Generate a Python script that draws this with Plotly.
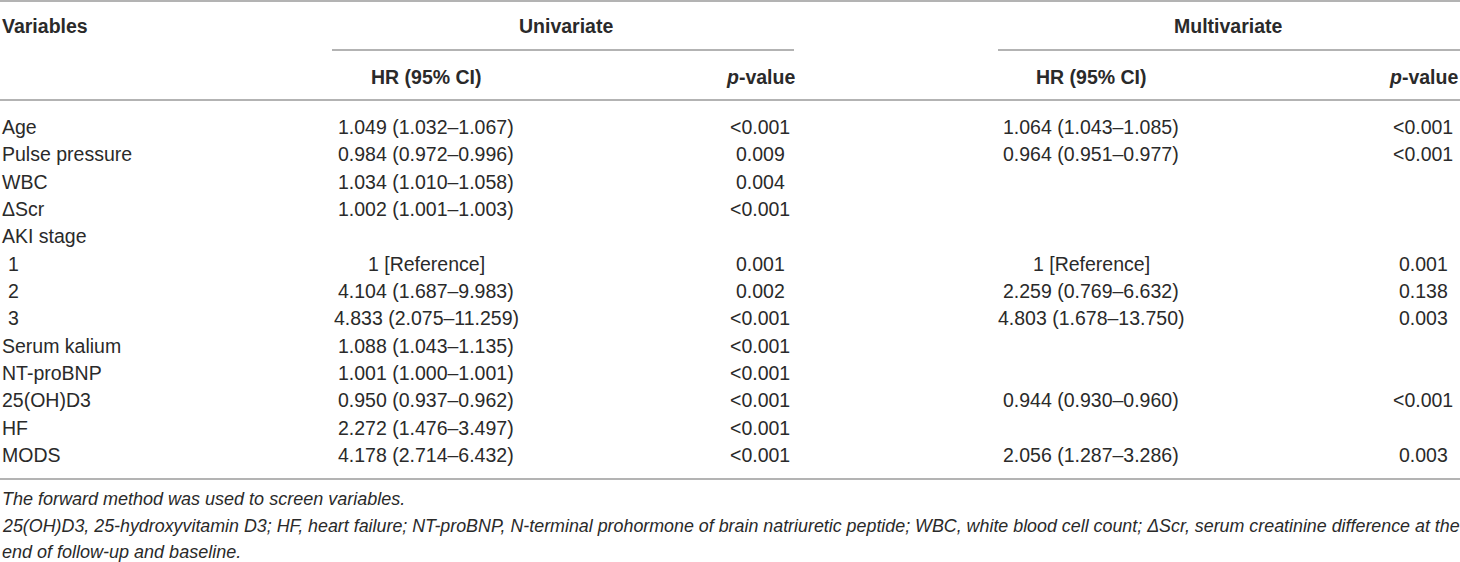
import plotly.graph_objects as go

# ---- data ----
variables = ["Age", "Pulse pressure", "WBC", "ΔScr", "AKI stage", "1", "2", "3",
             "Serum kalium", "NT-proBNP", "25(OH)D3", "HF", "MODS"]
indented = [False, False, False, False, False, True, True, True,
            False, False, False, False, False]
uni_hr = ["1.049 (1.032–1.067)", "0.984 (0.972–0.996)", "1.034 (1.010–1.058)",
          "1.002 (1.001–1.003)", "", "1 [Reference]", "4.104 (1.687–9.983)",
          "4.833 (2.075–11.259)", "1.088 (1.043–1.135)", "1.001 (1.000–1.001)",
          "0.950 (0.937–0.962)", "2.272 (1.476–3.497)", "4.178 (2.714–6.432)"]
uni_p = ["<0.001", "0.009", "0.004", "<0.001", "", "0.001", "0.002", "<0.001",
         "<0.001", "<0.001", "<0.001", "<0.001", "<0.001"]
multi_hr = ["1.064 (1.043–1.085)", "0.964 (0.951–0.977)", "", "", "", "1 [Reference]",
            "2.259 (0.769–6.632)", "4.803 (1.678–13.750)", "", "",
            "0.944 (0.930–0.960)", "", "2.056 (1.287–3.286)"]
multi_p = ["<0.001", "<0.001", "", "", "", "0.001", "0.138", "0.003", "", "",
           "<0.001", "", "0.003"]
group_headers = ["Univariate", "Multivariate"]
sub_headers = ["HR (95% CI)", "<i>p</i>-value"]
footnotes = [
    "The forward method was used to screen variables.",
    "25(OH)D3, 25-hydroxyvitamin D3; HF, heart failure; NT-proBNP, N-terminal prohormone of brain natriuretic peptide; WBC, white blood cell count; ΔScr, serum creatinine difference at the",
    "end of follow-up and baseline.",
]

# ---- layout constants ----
W, H = 1460, 562
FONT = "Liberation Sans, Arial, sans-serif"
TXT = "#2a2a2a"
LINE = "#9a9a9a"
FS = 19.5
row_y0, row_dy = 127, 27.33
col_hr = [426, 1091]
col_p = [760, 1423]
group_center = [566, 1228]
group_span = [(332, 794), (998, 1460)]
foot_sizes = [18, 17.85, 18]

fig = go.Figure()
ann = []

def add(text, x, y, anchor="center", bold=False, italic=False, size=FS):
    t = text
    if bold:
        t = "<b>" + t + "</b>"
    if italic:
        t = "<i>" + t + "</i>"
    ann.append(dict(text=t, x=x, y=y, xref="x", yref="y", xanchor=anchor,
                    yanchor="middle", showarrow=False,
                    font=dict(family=FONT, size=size, color=TXT)))

# headers
add("Variables", 0, 26, anchor="left", bold=True)
for g in range(2):
    add(group_headers[g], group_center[g], 26, bold=True)
    add(sub_headers[0], col_hr[g], 77, bold=True)
    add(sub_headers[1], col_p[g], 77, bold=True)

# body
for i, name in enumerate(variables):
    y = row_y0 + row_dy * i
    add(name, 6 if indented[i] else 0, y, anchor="left")
    for g, (hr, pv) in enumerate([(uni_hr, uni_p), (multi_hr, multi_p)]):
        if hr[i]:
            add(hr[i], col_hr[g], y)
        if pv[i]:
            add(pv[i], col_p[g], y)

# footnotes
for k, fn in enumerate(footnotes):
    add(fn, 0, 499 + 26.5 * k, anchor="left", italic=True, size=foot_sizes[k])

# rules
shapes = []
def hline(x0, x1, y, w=1.6):
    shapes.append(dict(type="line", xref="x", yref="y", x0=x0, x1=x1, y0=y, y1=y,
                       line=dict(color=LINE, width=w)))
hline(0, W, 1)
for a, b in group_span:
    hline(a, b, 50)
hline(0, W, 100)
hline(0, W, 479)

fig.add_trace(go.Scatter(x=[0, W], y=[0, H], mode="markers",
                         marker=dict(opacity=0), hoverinfo="skip", showlegend=False))

fig.update_layout(
    width=W, height=H,
    margin=dict(l=0, r=0, t=0, b=0),
    paper_bgcolor="white", plot_bgcolor="white",
    xaxis=dict(range=[0, W], visible=False, fixedrange=True),
    yaxis=dict(range=[H, 0], visible=False, fixedrange=True),
    annotations=ann, shapes=shapes, showlegend=False,
)
fig.write_html(
    "out.html",
    config={"displayModeBar": False},
    post_script="document.body.style.margin='0';document.body.style.padding='0';"
                "document.body.style.overflow='hidden';"
                "document.documentElement.style.overflow='hidden';",
)
